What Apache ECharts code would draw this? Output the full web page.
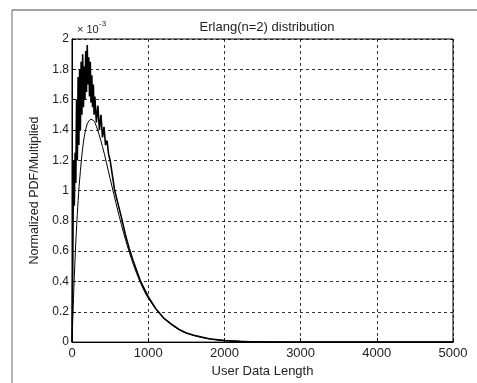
<!DOCTYPE html>
<html>
<head>
<meta charset="utf-8">
<script src="https://cdn.jsdelivr.net/npm/echarts@6/dist/echarts.min.js"></script>
<style>
html,body{margin:0;padding:0;background:#fff}
#chart{width:477px;height:383px}
</style>
</head>
<body>
<div id="chart"></div>
<script>
// values in units of 1e-3
const fitX = [0, 25, 50, 75, 100, 150, 200, 250, 300, 400, 500, 600, 700, 800, 900, 1000, 1200, 1400, 1600, 1800, 2000, 2500, 3000, 5000]
const fitY = [0, 0.36, 0.66, 0.89, 1.07, 1.32, 1.44, 1.47, 1.45, 1.29, 1.08, 0.87, 0.68, 0.52, 0.39, 0.29, 0.16, 0.083, 0.043, 0.021, 0.011, 0.002, 0, 0]

const dataX = [0, 10, 20, 30, 40, 50, 60, 70, 80, 90, 100, 110, 120, 130, 140, 150, 160, 170, 180, 190, 200, 210, 220, 230, 240, 250, 260, 270, 280, 290, 300, 320, 340, 360, 380, 400, 420, 440, 460, 480, 500, 530, 560, 600, 650, 700, 750, 800, 900, 1000, 1100, 1200, 1300, 1400, 1500, 1600, 1800, 2000, 2200, 2400, 5000]
const dataY = [0, 0.5, 1.2, 0.9, 1.25, 1.05, 1.6, 1.2, 1.75, 1.3, 1.8, 1.4, 1.85, 1.5, 1.9, 1.55, 1.82, 1.6, 1.92, 1.65, 1.96, 1.7, 1.88, 1.62, 1.85, 1.58, 1.76, 1.55, 1.7, 1.5, 1.62, 1.45, 1.56, 1.4, 1.5, 1.35, 1.42, 1.3, 1.33, 1.24, 1.2, 1.1, 1.0, 0.92, 0.82, 0.71, 0.62, 0.54, 0.4, 0.3, 0.22, 0.16, 0.12, 0.085, 0.06, 0.045, 0.022, 0.01, 0.004, 0, 0]

const pairs = (xs, ys) => xs.map((x, i) => [x, ys[i]])

const font = 'Liberation Sans, Arial, sans-serif'
const grid = {type: [3, 3], color: '#000', width: 0.8}

const myecharts = echarts.init(document.getElementById('chart'))
const option = {
    backgroundColor: '#fff',
    animation: false,
    title: {
        text: 'Erlang(n=2) distribution',
        left: 262, top: 16, textAlign: 'center',
        textStyle: {fontFamily: font, fontSize: 13, fontWeight: 'normal', color: '#222'}
    },
    grid: {left: 72, right: 24, top: 39, bottom: 38, show: true, borderColor: '#000', borderWidth: 1},
    xAxis: {
        type: 'value', min: 0, max: 5000, interval: 1000,
        name: 'User Data Length', nameLocation: 'middle', nameGap: 21,
        nameTextStyle: {fontFamily: font, fontSize: 13, color: '#222'},
        axisLine: {lineStyle: {color: '#000'}},
        axisTick: {inside: true, length: 4, lineStyle: {color: '#000'}},
        axisLabel: {fontFamily: font, fontSize: 13, color: '#222', margin: 5,
            formatter: v => v + ''},
        splitLine: {lineStyle: grid}
    },
    yAxis: {
        type: 'value', min: 0, max: 2, interval: 0.2,
        name: 'Normalized PDF/Multiplied', nameLocation: 'middle', nameGap: 29,
        nameTextStyle: {fontFamily: font, fontSize: 12.5, color: '#222'},
        axisLine: {lineStyle: {color: '#000'}},
        axisTick: {inside: true, length: 4, lineStyle: {color: '#000'}},
        axisLabel: {fontFamily: font, fontSize: 12, color: '#222', margin: 3,
            formatter: v => +v.toFixed(1) + ''},
        splitLine: {lineStyle: grid}
    },
    graphic: [
        {type: 'line', shape: {x1: 12, y1: 10, x2: 477, y2: 10}, style: {stroke: '#444', lineWidth: 1}},
        {type: 'line', shape: {x1: 12, y1: 10, x2: 12, y2: 383}, style: {stroke: '#666', lineWidth: 1}},
        {type: 'text', left: 77, top: 24, style: {text: '\u00d7 10', font: '11px ' + font, fill: '#222'}},
        {type: 'text', left: 99, top: 20, style: {text: '-3', font: '8px ' + font, fill: '#222'}}
    ],
    series: [
        {
            type: 'line', data: pairs(dataX, dataY), symbol: 'none',
            lineStyle: {color: '#000', width: 1.6}
        },
        {
            type: 'line', data: pairs(fitX, fitY), symbol: 'none', smooth: 0.3,
            lineStyle: {color: '#000', width: 1}
        }
    ]
}
myecharts.setOption(option)
</script>
</body>
</html>
